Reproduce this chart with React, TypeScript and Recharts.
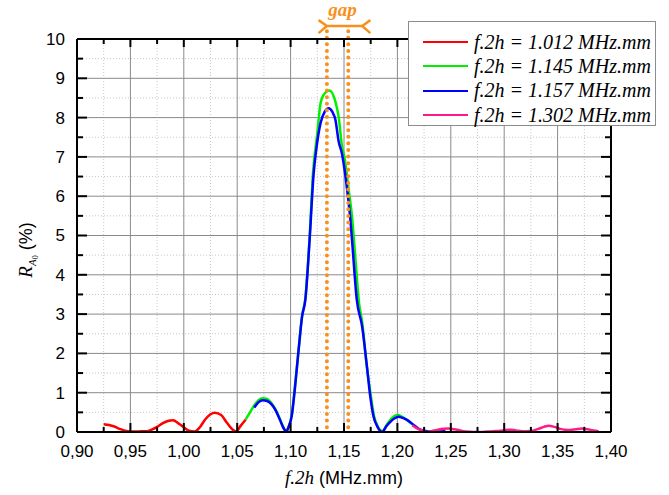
import React from 'react';
import { LineChart, Line, XAxis, YAxis, CartesianGrid, ReferenceLine, Legend } from 'recharts';

// ---- axis ticks ----
const xMajor = [0.9, 0.95, 1.0, 1.05, 1.1, 1.15, 1.2, 1.25, 1.3, 1.35, 1.4];
const xMinor = [0.925, 0.975, 1.025, 1.075, 1.125, 1.175, 1.225, 1.275, 1.325, 1.375];
const xTickLabels = ['0,90', '0,95', '1,00', '1,05', '1,10', '1,15', '1,20', '1,25', '1,30', '1,35', '1,40'];
const yMajor = [0, 1, 2, 3, 4, 5, 6, 7, 8, 9, 10];
const yMinor = [0.5, 1.5, 2.5, 3.5, 4.5, 5.5, 6.5, 7.5, 8.5, 9.5];
const yTickLabels = ['0', '1', '2', '3', '4', '5', '6', '7', '8', '9', '10'];

// ---- series ----
const seriesNames = ['f.2h = 1.012 MHz.mm', 'f.2h = 1.145 MHz.mm', 'f.2h = 1.157 MHz.mm', 'f.2h = 1.302 MHz.mm'];
const seriesColors = ['#ff0000', '#00f000', '#0000ff', '#ff1a8c'];

const red1012: [number, number][] = [
  [0.925, 0.2], [0.93, 0.18], [0.935, 0.14], [0.94, 0.08], [0.945, 0.03], [0.95, 0.01], [0.955, 0.01],
  [0.96, 0.02], [0.965, 0.02], [0.97, 0.06], [0.975, 0.13], [0.98, 0.22], [0.985, 0.28], [0.99, 0.3],
  [0.995, 0.22], [1.0, 0.12], [1.005, 0.03], [1.01, 0.01], [1.015, 0.12], [1.02, 0.32], [1.025, 0.45],
  [1.029, 0.49], [1.035, 0.43], [1.04, 0.25], [1.045, 0.08], [1.049, 0.01], [1.053, 0.15], [1.058, 0.32],
];

const green1145: [number, number][] = [
  [1.058, 0.32], [1.062, 0.5], [1.066, 0.68], [1.07, 0.81], [1.074, 0.86], [1.078, 0.84], [1.082, 0.74],
  [1.086, 0.57], [1.09, 0.33], [1.094, 0.08], [1.096, 0.02], [1.098, 0.12], [1.101, 0.42], [1.104, 1.15],
  [1.1075, 2.1], [1.1107, 2.95], [1.1138, 3.4], [1.1178, 4.95], [1.121, 6.6], [1.125, 7.6], [1.128, 8.36],
  [1.131, 8.58], [1.1365, 8.69], [1.142, 8.4], [1.145, 8.02], [1.148, 7.3], [1.151, 6.9], [1.154, 6.24],
  [1.1575, 5.48], [1.161, 4.3], [1.164, 3.3], [1.167, 2.8], [1.171, 1.75], [1.175, 0.95], [1.178, 0.42],
  [1.182, 0.12], [1.186, 0.02], [1.19, 0.18], [1.195, 0.36], [1.2, 0.43], [1.205, 0.38], [1.21, 0.28],
  [1.214, 0.2],
];

const blue1157: [number, number][] = [
  [1.066, 0.62], [1.07, 0.76], [1.074, 0.81], [1.078, 0.79], [1.082, 0.71], [1.086, 0.55], [1.09, 0.31],
  [1.094, 0.07], [1.096, 0.01], [1.098, 0.12], [1.101, 0.4], [1.104, 1.1], [1.1075, 2.09], [1.1107, 2.93],
  [1.1138, 3.36], [1.1178, 4.89], [1.1216, 6.58], [1.124, 7.18], [1.128, 7.86], [1.132, 8.15],
  [1.1356, 8.24], [1.139, 8.15], [1.142, 7.94], [1.145, 7.39], [1.148, 7.09], [1.151, 6.58], [1.1537, 5.99],
  [1.156, 5.39], [1.1575, 4.89], [1.162, 3.36], [1.167, 2.68], [1.1715, 1.66], [1.1746, 0.9],
  [1.1777, 0.39], [1.181, 0.15], [1.1856, 0.0], [1.19, 0.16], [1.1934, 0.26], [1.1975, 0.35],
  [1.2011, 0.39], [1.205, 0.36], [1.209, 0.31], [1.2152, 0.18], [1.22, 0.08], [1.225, 0.03], [1.23, 0.01],
  [1.235, 0.0], [1.24, 0.01], [1.245, 0.02],
];

const pink1302: [number, number][] = [
  [1.2138, 0.17], [1.218, 0.1], [1.223, 0.04], [1.2277, 0.0], [1.232, 0.02], [1.237, 0.05], [1.243, 0.08],
  [1.248, 0.09], [1.253, 0.07], [1.259, 0.04], [1.265, 0.01], [1.271, 0.0], [1.278, 0.0], [1.284, 0.01],
  [1.29, 0.02], [1.2963, 0.03], [1.301, 0.05], [1.3057, 0.06], [1.311, 0.04], [1.3166, 0.02], [1.321, 0.02],
  [1.326, 0.03], [1.332, 0.08], [1.337, 0.13], [1.3416, 0.16], [1.347, 0.13], [1.3525, 0.08], [1.357, 0.06],
  [1.3619, 0.05], [1.367, 0.07], [1.3728, 0.09], [1.378, 0.07], [1.3837, 0.04], [1.3884, 0.02],
];

// ---- "gap" annotation (data units) ----
const gapLinesX = [1.134, 1.154];
const gapBracket = { x1: 1.134, x2: 1.167, y: 10.33, tailX1: 1.1262, tailX2: 1.1747, tailTop: 10.48, tailBottom: 10.15 };
const gapDotTop = 10.2;

const allSeries = [red1012, green1145, blue1157, pink1302].map((s) => s.map(([x, y]) => ({ x, y })));

const ORANGE = '#f8901e';
const SANS = "'Liberation Sans', Arial, sans-serif";
const SERIF = "'Liberation Serif', 'Times New Roman', serif";

const xTicksAll = [...xMajor, ...xMinor].sort((a, b) => a - b);
const yTicksAll = [...yMajor, ...yMinor].sort((a, b) => a - b);
const idxOf = (arr: number[], v: number) => arr.findIndex((m) => Math.abs(m - v) < 1e-9);

const BottomTick = (p: any) => {
  const i = idxOf(xMajor, p.payload.value);
  const major = i >= 0;
  return (
    <g>
      <line x1={p.x} y1={p.y} x2={p.x} y2={p.y - (major ? 9 : 5)} stroke="#000" strokeWidth={2} />
      {major && (
        <text x={p.x} y={p.y + 19} dy="0.35em" textAnchor="middle" fontSize={17} fontFamily={SANS} fill="#000">
          {xTickLabels[i]}
        </text>
      )}
    </g>
  );
};
const TopTick = (p: any) => {
  const major = idxOf(xMajor, p.payload.value) >= 0;
  return <line x1={p.x} y1={p.y} x2={p.x} y2={p.y + (major ? 8 : 5)} stroke="#000" strokeWidth={2} />;
};
const LeftTick = (p: any) => {
  const i = idxOf(yMajor, p.payload.value);
  const major = i >= 0;
  return (
    <g>
      <line x1={p.x} y1={p.y} x2={p.x + (major ? 10 : 6)} y2={p.y} stroke="#000" strokeWidth={2} />
      {major && (
        <text x={p.x - 12} y={p.y} dy="0.35em" textAnchor="end" fontSize={17} fontFamily={SANS} fill="#000">
          {yTickLabels[i]}
        </text>
      )}
    </g>
  );
};
const RightTick = (p: any) => {
  const major = idxOf(yMajor, p.payload.value) >= 0;
  return <line x1={p.x} y1={p.y} x2={p.x - (major ? 10 : 6)} y2={p.y} stroke="#000" strokeWidth={2} />;
};

const YLabel = () => (
  <text transform="rotate(-90 32 250)" x={32} y={250} textAnchor="middle" fill="#000">
    <tspan fontFamily={SERIF} fontStyle="italic" fontSize={19}>R</tspan>
    <tspan fontFamily={SERIF} fontStyle="italic" fontSize={11} dy={4}>A</tspan>
    <tspan fontFamily={SERIF} fontSize={8} dy={2}>0</tspan>
    <tspan fontFamily={SANS} fontSize={18} dy={-6}> (%)</tspan>
  </text>
);

const XLabel = () => (
  <text x={344} y={484} textAnchor="middle" fill="#000">
    <tspan fontFamily={SERIF} fontStyle="italic" fontSize={19}>f.2h</tspan>
    <tspan fontFamily={SANS} fontSize={18}> (MHz.mm)</tspan>
  </text>
);

const LegendBox = () => (
  <div
    style={{
      boxSizing: 'border-box',
      width: 248,
      height: 105,
      border: '1px solid #8c8c8c',
      background: '#fff',
      paddingTop: 8,
    }}
  >
    {seriesNames.map((n, i) => (
      <div key={n} style={{ display: 'flex', alignItems: 'center', height: 24.3 }}>
        <span
          style={{
            display: 'inline-block',
            width: 45,
            height: 0,
            borderTop: `2.5px solid ${seriesColors[i]}`,
            marginLeft: 14,
            marginRight: 6,
          }}
        />
        <span style={{ fontFamily: SERIF, fontStyle: 'italic', fontSize: 20, color: '#000', whiteSpace: 'nowrap' }}>{n}</span>
      </div>
    ))}
  </div>
);

export default function App() {
  return (
    <div style={{ position: 'absolute', left: 0, top: 0, width: 669, height: 495, background: '#fff' }}>
      <LineChart width={669} height={495} margin={{ top: 0, right: 0, bottom: 0, left: 0 }}>
        <CartesianGrid horizontalValues={yMinor} verticalValues={xMinor} stroke="#c8c8c8" strokeDasharray="1 2" />
        <CartesianGrid horizontalValues={yMajor} verticalValues={xMajor} stroke="#8a8a8a" />
        <XAxis
          dataKey="x"
          type="number"
          domain={[0.9, 1.4]}
          allowDataOverflow
          ticks={xTicksAll}
          interval={0}
          height={63}
          tickSize={0}
          tickMargin={0}
          tickLine={false}
          tick={<BottomTick />}
          axisLine={{ stroke: '#000', strokeWidth: 2 }}
          label={<XLabel />}
        />
        <XAxis
          xAxisId="top"
          orientation="top"
          dataKey="x"
          type="number"
          domain={[0.9, 1.4]}
          allowDataOverflow
          ticks={xTicksAll}
          interval={0}
          height={39}
          tickSize={0}
          tickMargin={0}
          tickLine={false}
          tick={<TopTick />}
          axisLine={{ stroke: '#000', strokeWidth: 2 }}
        />
        <YAxis
          type="number"
          domain={[0, 10]}
          allowDataOverflow
          ticks={yTicksAll}
          interval={0}
          width={77}
          tickSize={0}
          tickMargin={0}
          tickLine={false}
          tick={<LeftTick />}
          axisLine={{ stroke: '#000', strokeWidth: 2 }}
          label={<YLabel />}
        />
        <YAxis
          yAxisId="right"
          orientation="right"
          type="number"
          domain={[0, 10]}
          allowDataOverflow
          ticks={yTicksAll}
          interval={0}
          width={58}
          tickSize={0}
          tickMargin={0}
          tickLine={false}
          tick={<RightTick />}
          axisLine={{ stroke: '#000', strokeWidth: 2 }}
        />
        {allSeries.map((d, i) => (
          <Line
            key={seriesNames[i]}
            data={d}
            dataKey="y"
            name={seriesNames[i]}
            type="monotone"
            stroke={seriesColors[i]}
            strokeWidth={2.5}
            dot={false}
            activeDot={false}
            isAnimationActive={false}
          />
        ))}
        {gapLinesX.map((gx) => (
          <ReferenceLine
            key={gx}
            ifOverflow="visible"
            segment={[{ x: gx, y: gapDotTop }, { x: gx, y: 0 }]}
            stroke={ORANGE}
            strokeWidth={4}
            strokeDasharray="0 6.6"
            strokeLinecap="round"
          />
        ))}
        <ReferenceLine
          ifOverflow="visible"
          segment={[{ x: gapBracket.x1, y: gapBracket.y }, { x: gapBracket.x2, y: gapBracket.y }]}
          stroke={ORANGE}
          strokeWidth={2.5}
          label={{
            value: 'gap',
            position: 'top',
            offset: 10,
            dx: -2,
            fill: ORANGE,
            fontSize: 19,
            fontWeight: 'bold',
            fontStyle: 'italic',
            fontFamily: SERIF,
          }}
        />
        <ReferenceLine ifOverflow="visible" segment={[{ x: gapBracket.tailX1, y: gapBracket.tailTop }, { x: gapBracket.x1, y: gapBracket.y }]} stroke={ORANGE} strokeWidth={2.5} />
        <ReferenceLine ifOverflow="visible" segment={[{ x: gapBracket.tailX1, y: gapBracket.tailBottom }, { x: gapBracket.x1, y: gapBracket.y }]} stroke={ORANGE} strokeWidth={2.5} />
        <ReferenceLine ifOverflow="visible" segment={[{ x: gapBracket.tailX2, y: gapBracket.tailTop }, { x: gapBracket.x2, y: gapBracket.y }]} stroke={ORANGE} strokeWidth={2.5} />
        <ReferenceLine ifOverflow="visible" segment={[{ x: gapBracket.tailX2, y: gapBracket.tailBottom }, { x: gapBracket.x2, y: gapBracket.y }]} stroke={ORANGE} strokeWidth={2.5} />
        <Legend
          layout="horizontal"
          align="center"
          verticalAlign="middle"
          content={<LegendBox />}
          wrapperStyle={{ left: 408, top: 21, width: 248, height: 105 }}
        />
      </LineChart>
    </div>
  );
}
